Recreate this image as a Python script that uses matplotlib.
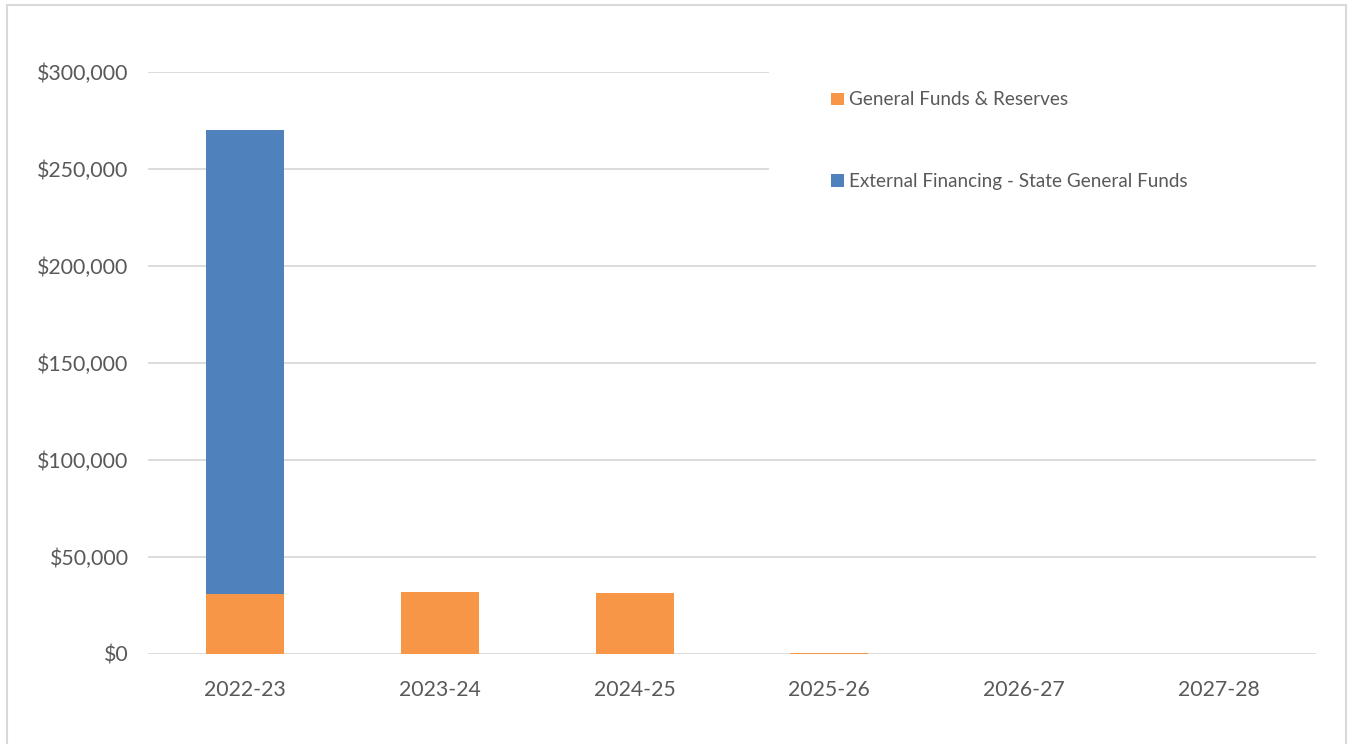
import matplotlib
matplotlib.use("Agg")
import matplotlib.pyplot as plt
from matplotlib.patches import Rectangle, Patch
from matplotlib.ticker import FuncFormatter

years = ["2022-23", "2023-24", "2024-25", "2025-26", "2026-27", "2027-28"]
general_funds = [31000, 32000, 31500, 400, 0, 0]
external_state = [239000, 0, 0, 0, 0, 0]
series_names = ["General Funds & Reserves", "External Financing - State General Funds"]
colors = ["#F79646", "#4F81BD"]

plt.rcParams['font.family'] = ['Lato', 'DejaVu Sans']
W, H = 1349, 744
fig = plt.figure(figsize=(W / 100, H / 100), dpi=100)
fig.patch.set_facecolor("white")

# outer chart border
fig.patches.append(Rectangle((7 / W, -0.05), (1346 - 7) / W, (H - 5) / H + 0.05,
                             transform=fig.transFigure, fill=False,
                             edgecolor="#D9D9D9", linewidth=1.5))

ax = fig.add_axes([148 / W, (H - 654) / H, (1316 - 148) / W, (654 - 72) / H])
x = list(range(len(years)))
ax.bar(x, general_funds, width=0.4, color=colors[0], zorder=3)
ax.bar(x, external_state, width=0.4, bottom=general_funds, color=colors[1], zorder=3)

ax.set_xlim(-0.5, len(years) - 0.5)
ax.set_ylim(0, 300000)
ax.set_yticks(range(0, 300001, 50000))
ax.yaxis.set_major_formatter(FuncFormatter(lambda v, p: f"${v:,.0f}"))
ax.set_xticks(x)
ax.set_xticklabels(years)
ax.grid(axis="y", color="#D9D9D9", linewidth=1.3, zorder=0)
ax.set_axisbelow(True)
for s in ax.spines.values():
    s.set_visible(False)
ax.tick_params(axis="both", length=0, labelsize=15.3, colors="#595959")
ax.tick_params(axis="y", pad=14)
ax.tick_params(axis="x", pad=19)

# white legend area covering upper gridlines
ax.add_patch(Rectangle(((769 - 148) / 1168, (654 - 215) / 582), 1.02 - (769 - 148) / 1168,
                       (215 - 55) / 582, transform=ax.transAxes, facecolor="white",
                       edgecolor="none", zorder=4, clip_on=False))

handles = [Patch(facecolor=colors[0]), Patch(facecolor=colors[1])]
leg = fig.legend(handles, series_names, loc="upper left",
                 bbox_to_anchor=(822 / W, (H - 82) / H), frameon=False,
                 fontsize=13.6, labelcolor="#595959", handlelength=0.65, handleheight=0.65,
                 handletextpad=0.3, labelspacing=3.42, borderpad=0)
leg.set_zorder(5)

fig.savefig("out.png", dpi=100, facecolor="white")
